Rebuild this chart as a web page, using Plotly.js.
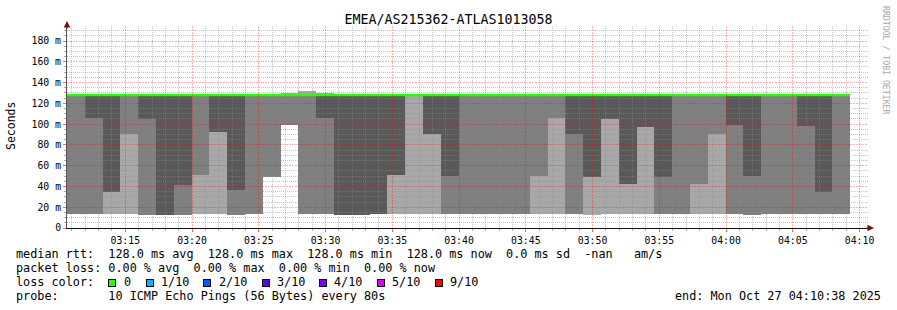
<!DOCTYPE html>
<html><head><meta charset="utf-8">
<script src="https://cdn.plot.ly/plotly-3.0.1.min.js"></script>
<style>
html,body{margin:0;padding:0;background:#fff}
#chart .gridlayer path{shape-rendering:crispEdges !important}
</style>
</head><body><div id="chart" style="width:897px;height:310px"></div>
<script>
// ---- data (SmokePing, 80 s steps) ----
const chartTitle = 'EMEA/AS215362-ATLAS1013058';
const dayUTC = [2025, 9, 27];
const rangeStart = '03:10:38';
const rangeEnd = '04:10:38';
const stepSeconds = 80;
const stepStarts = [
  '03:10:38','03:11:58','03:13:18','03:14:38','03:15:58','03:17:18','03:18:38','03:19:58','03:21:18','03:22:38',
  '03:23:58','03:25:18','03:26:38','03:27:58','03:29:18','03:30:38','03:31:58','03:33:18','03:34:38','03:35:58',
  '03:37:18','03:38:38','03:39:58','03:41:18','03:42:38','03:43:58','03:45:18','03:46:38','03:47:58','03:49:18',
  '03:50:38','03:51:58','03:53:18','03:54:38','03:55:58','03:57:18','03:58:38','03:59:58','04:01:18','04:02:38',
  '04:03:58','04:05:18','04:06:38','04:07:58'];
const minMs = [
  13.5,13.5,13,13.5,12.5,12.5,12.5,13.5,13,12.5,
  13,13,13,13.5,13.5,12.8,12.5,13,13,13,
  13,13,13.5,13,13,13,13,13,13,12.5,
  13,13,13,13,13,13,13,13,12.5,13,
  13,13,13,13];
const splitMs = [
  13.5,106,35,90.5,105,12.5,41.5,51,92.5,36.5,
  13,49,99.5,13.5,106,12.8,12.5,13,51,13,
  90.5,50,13.5,13,13,13,50,106,90.5,49,
  105,42.5,97,49,13,42.5,90.5,99.5,50,13,
  13,98.5,34.6,13];
const medianMs = [
  128,128,128,128,128,128,128,128,128,128,
  128,128,128,128,128,128,128,128,128,128,
  128,128,128,128,128,128,128,128,128,128,
  128,128,128,128,128,128,128,128,128,128,
  128,128,128,128];
const maxMs = [
  128,128,128,128,128,128,128,128,128,128,
  128,128,130,131.6,129.6,128,128,128,128,128,
  128,128,128,128,128,128,128,128,128,128,
  128,128,128,128,128,128,128,128,128,128,
  128,128,128,128];
const upperTone = [
  'M','D','D','M','D','D','D','M','D','D',
  'M','M','M','M','D','D','D','D','D','L',
  'D','D','M','M','M','M','M','M','D','D',
  'D','D','D','D','M','M','M','D','D','M',
  'M','D','D','M'];
const lowerTone = [
  'M','M','L','L','M','D','M','L','L','M',
  'M','W','W','M','M','D','D','D','L','L',
  'L','M','M','M','M','M','L','L','M','L',
  'L','L','L','M','M','L','L','M','M','M',
  'M','M','M','M'];
const yTickVals = [0,20,40,60,80,100,120,140,160,180];
const yTickText = ['0','20 m','40 m','60 m','80 m','100 m','120 m','140 m','160 m','180 m'];
const lossLabels = ['0','1/10','2/10','3/10','4/10','5/10','9/10'];
const lossColors = ['#26ff00','#00b8ff','#0059ff','#5e00ff','#7e00ff','#dd00ff','#ff0000'];
const legendLines = [
  'median rtt:  128.0 ms avg  128.0 ms max  128.0 ms min  128.0 ms now  0.0 ms sd  -nan   am/s',
  'packet loss: 0.00 % avg  0.00 % max  0.00 % min  0.00 % now',
  'loss color:',
  'probe:       10 ICMP Echo Pings (56 Bytes) every 80s'];
const endText = 'end: Mon Oct 27 04:10:38 2025';
const watermark = 'RRDTOOL / TOBI OETIKER';

// ---- styling ----
const toneColor = {D:'#595959', M:'#7f7f7f', L:'#a8a8a8', W:'rgba(0,0,0,0)'};
const mono = 'DejaVu Sans Mono';
const W = 897, H = 310, ML = 67, MR = 29, MT = 26, MB = 82;
const PW = W - ML - MR, PH = H - MT - MB;
const px = X => (X - ML) / PW;
const py = Y => (H - MB - Y) / PH;
const nb = s => s.replace(/ /g, '\u00A0');

function t(hms) {
  const [h, m, s] = hms.split(':').map(Number);
  return Date.UTC(dayUTC[0], dayUTC[1], dayUTC[2], h, m, s);
}
const xs = stepStarts.map(t);
const stepMsec = stepSeconds * 1000;
const xr = [t(rangeStart), t(rangeEnd)];
const yr = [0, PH / 1.0389];

// grid positions: minor every minute / 5 ms, skipping the major ones
const minorX = [], majorX = [];
for (let m = Math.ceil((xr[0]) / 60000) * 60000; m <= xr[1]; m += 60000) {
  ((m / 60000) % 5 === 0 ? majorX : minorX).push(m);
}
const minorY = [];
for (let v = 5; v < yr[1]; v += 5) if (v % 20 !== 0) minorY.push(v);

const barCommon = {type:'bar', xaxis:'x', yaxis:'y', offset:0, width:stepMsec,
  hoverinfo:'skip', showlegend:false};
const traces = [
  Object.assign({}, barCommon, {x: xs, base: minMs, y: splitMs.map((v,i)=>v-minMs[i]),
    marker:{color: lowerTone.map(k=>toneColor[k]), line:{width:0}}}),
  Object.assign({}, barCommon, {x: xs, base: splitMs, y: medianMs.map((v,i)=>v-splitMs[i]),
    marker:{color: upperTone.map(k=>toneColor[k]), line:{width:0}}}),
  Object.assign({}, barCommon, {x: xs, base: medianMs, y: maxMs.map((v,i)=>v-medianMs[i]),
    marker:{color: toneColor.L, line:{width:0}}}),
  {type:'scatter', mode:'lines', xaxis:'x', yaxis:'y', hoverinfo:'skip', showlegend:false,
    x: xs.concat([xs[xs.length-1] + stepMsec]), y: medianMs.concat([medianMs[medianMs.length-1]]),
    line:{color: lossColors[0], width:2.5, shape:'hv'}},
  {type:'scatter', mode:'markers', xaxis:'x2', yaxis:'y2', x:[], y:[], hoverinfo:'skip', showlegend:false},
  {type:'scatter', mode:'markers', xaxis:'x3', yaxis:'y3', x:[], y:[], hoverinfo:'skip', showlegend:false}
];

const annotations = [];
// axis arrows
annotations.push({xref:'paper', yref:'paper', x:0, y:py(21), ax:0, ay:9, text:'', showarrow:true,
  arrowhead:2, arrowsize:1.3, arrowwidth:1, arrowcolor:'#7a1010', standoff:0});
annotations.push({xref:'paper', yref:'paper', x:px(874), y:0, ax:-9, ay:0, text:'', showarrow:true,
  arrowhead:2, arrowsize:1.3, arrowwidth:1, arrowcolor:'#7a1010', standoff:0});
// y axis title
annotations.push({xref:'paper', yref:'paper', x:px(11), y:py(126), text:'Seconds', textangle:-90,
  showarrow:false, xanchor:'center', yanchor:'middle', font:{family:mono, size:11.5, color:'#000'}});
// watermark
annotations.push({xref:'paper', yref:'paper', x:px(886), y:py(60), text:watermark, textangle:90,
  showarrow:false, xanchor:'center', yanchor:'middle', font:{family:mono, size:8.2, color:'#a8a8a8'}});
// legend lines
const lineY = [254, 268, 282, 296];
legendLines.forEach((s, i) => {
  annotations.push({xref:'paper', yref:'paper', x:px(15), y:py(lineY[i]), text:nb(s), showarrow:false,
    xanchor:'left', yanchor:'middle', borderpad:0, font:{family:mono, size:11.8, color:'#000'}});
});
annotations.push({xref:'paper', yref:'paper', x:px(882), y:py(lineY[3]), text:nb(endText), showarrow:false,
  xanchor:'right', yanchor:'middle', borderpad:0, font:{family:mono, size:11.8, color:'#000'}});
// loss colour swatches
const swatchX = [112.2, 149.5, 207.3, 265.5, 322.8, 380.7, 438.8];
lossLabels.forEach((lab, i) => {
  annotations.push({xref:'paper', yref:'paper', x:px(swatchX[i]), y:py(lineY[2]+0.5), text:'\u00A0',
    showarrow:false, xanchor:'center', yanchor:'middle', width:6, height:6, borderpad:0, borderwidth:1,
    bordercolor:'#000', bgcolor:lossColors[i], font:{size:1}});
  annotations.push({xref:'paper', yref:'paper', x:px(swatchX[i] + 10.5), y:py(lineY[2]), text:nb(lab),
    showarrow:false, xanchor:'left', yanchor:'middle', borderpad:0, font:{family:mono, size:11.8, color:'#000'}});
});

const hidden = {showgrid:false, zeroline:false, showticklabels:false, ticks:'', showline:false};
const gridGrey = 'rgba(140,140,140,0.5)';
const gridRed = 'rgba(255,0,0,0.3)';
const layout = {
  width:W, height:H, margin:{l:ML, r:MR, t:MT, b:MB, pad:0},
  paper_bgcolor:'#fff', plot_bgcolor:'rgba(0,0,0,0)',
  barmode:'overlay', bargap:0, showlegend:false,
  title:{text:chartTitle, font:{family:mono, size:13.3, color:'#000'},
    x:0.5, xref:'container', y:1 - 19.5/H, yref:'container', xanchor:'center', yanchor:'middle'},
  // data subplot
  xaxis: Object.assign({type:'date', range:xr, anchor:'y', domain:[0,1], fixedrange:true}, hidden),
  yaxis: Object.assign({range:yr, anchor:'x', domain:[0,1], fixedrange:true}, hidden),
  // minor grid subplot (above data)
  xaxis2: {type:'date', range:xr, anchor:'y2', domain:[0,1], fixedrange:true,
    tickmode:'array', tickvals:minorX, showticklabels:false, ticks:'outside', ticklen:2, tickcolor:'#aaa',
    showgrid:true, gridcolor:gridGrey, griddash:'1px,1px', gridwidth:1, zeroline:false, showline:false},
  yaxis2: {range:yr, anchor:'x2', domain:[0,1], fixedrange:true,
    tickmode:'array', tickvals:minorY, showticklabels:false, ticks:'outside', ticklen:2, tickcolor:'#aaa',
    showgrid:true, gridcolor:gridGrey, griddash:'1px,1px', gridwidth:1, zeroline:false, showline:false},
  // major grid, ticks, labels, axis lines (top)
  xaxis3: {type:'date', range:xr, anchor:'y3', domain:[0,1], fixedrange:true,
    tickmode:'array', tickvals:majorX, tickformat:'%H:%M',
    tickfont:{family:mono, size:9.8, color:'#000'},
    showgrid:true, gridcolor:gridRed, griddash:'2px,1px', gridwidth:1,
    ticks:'outside', ticklen:3, tickcolor:'rgba(255,0,0,0.6)', tickwidth:1,
    showline:true, linecolor:'#111', linewidth:1, zeroline:false},
  yaxis3: {range:yr, anchor:'x3', domain:[0,1], fixedrange:true,
    tickmode:'array', tickvals:yTickVals, ticktext:yTickText,
    tickfont:{family:mono, size:9.8, color:'#000'},
    showgrid:true, gridcolor:gridRed, griddash:'2px,1px', gridwidth:1,
    ticks:'outside', ticklen:3, tickcolor:'rgba(255,0,0,0.6)',
    showline:true, linecolor:'#555', linewidth:1, zeroline:false},
  annotations: annotations
};
Plotly.newPlot('chart', traces, layout, {staticPlot:true, displayModeBar:false});
</script></body></html>
